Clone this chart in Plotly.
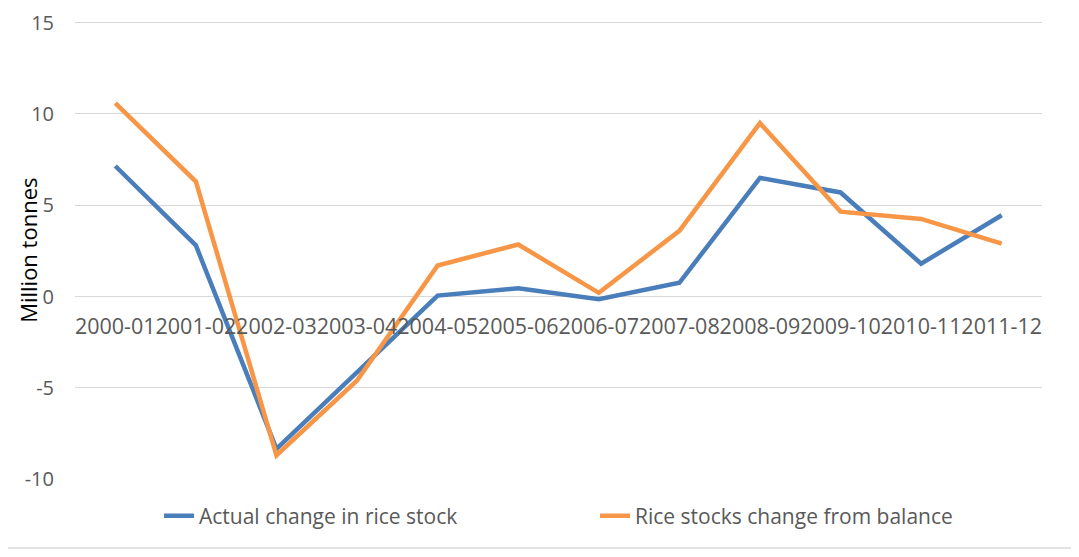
import plotly.graph_objects as go

categories = ["2000-01", "2001-02", "2002-03", "2003-04", "2004-05", "2005-06",
              "2006-07", "2007-08", "2008-09", "2009-10", "2010-11", "2011-12"]
actual_change = [7.15, 2.8, -8.35, -4.15, 0.05, 0.45, -0.15, 0.75, 6.5, 5.7, 1.8, 4.45]
balance_change = [10.6, 6.3, -8.7, -4.6, 1.7, 2.85, 0.2, 3.6, 9.5, 4.65, 4.25, 2.9]
y_ticks = [-10, -5, 0, 5, 10, 15]
y_tick_labels = ["-10", "-5", "0", "5", "10", "15"]

# page body has an 8px offset, so the figure is drawn smaller/shifted
OFF = 8
ymin, ymax = -10, 15.15
PX_PER_UNIT = 456 / 25
W, H = 1079 - OFF, 557 - 2 * OFF
ph = (ymax - ymin) * PX_PER_UNIT
T = 23 - OFF - (ymax - 15) * PX_PER_UNIT
L, R = 75 - OFF, 37
B = H - T - ph
pw = W - L - R
TXT = "#595959"
FONT = "Open Sans, Liberation Sans, sans-serif"

fig = go.Figure()
fig.add_trace(go.Scatter(x=categories, y=actual_change, mode="lines",
                         name="Actual change in rice stock",
                         line=dict(color="#4A7EBB", width=4.5)))
fig.add_trace(go.Scatter(x=categories, y=balance_change, mode="lines",
                         name="Rice stocks change from balance",
                         line=dict(color="#F79646", width=4.5)))

fig.update_layout(
    width=W, height=H,
    margin=dict(l=L, r=R, t=T, b=B, autoexpand=False),
    paper_bgcolor="white", plot_bgcolor="white",
    font=dict(family=FONT, color=TXT, size=21),
    showlegend=True,
    legend=dict(orientation="h", x=(159 - OFF - L) / pw, xanchor="left",
                y=-(516 - OFF - T - ph) / ph,
                yanchor="middle", font=dict(size=21, color=TXT),
                entrywidth=391, entrywidthmode="pixels"),
    xaxis=dict(type="category", range=[-0.5, 11.5], showgrid=False, showline=False,
               zeroline=False, anchor="free", position=(0 - ymin) / (ymax - ymin),
               automargin=False, tickangle=0, ticklabeloverflow="allow",
               ticks="", ticklabelstandoff=15, tickfont=dict(size=21.5, color=TXT)),
    yaxis=dict(range=[ymin, ymax], tickvals=y_ticks, ticktext=y_tick_labels,
               showgrid=True, gridcolor="#D9D9D9",
               gridwidth=1, zeroline=False, showline=False, ticks="", automargin=False,
               ticklabeloverflow="allow",
               ticklabelstandoff=20, tickfont=dict(size=20, color=TXT)),
    annotations=[dict(text="Million tonnes", xref="paper", yref="paper",
                      x=-(L - (28 - OFF)) / pw, y=(ph - (251 - OFF - T)) / ph,
                      xanchor="center", yanchor="middle",
                      textangle=-90, showarrow=False,
                      font=dict(size=22, color="#000000", family=FONT))],
    shapes=[dict(type="line", xref="paper", yref="paper",
                 x0=1 + (R - 4) / pw, x1=1 + (R - 4) / pw,
                 y0=-(B - 1) / ph, y1=1 + T / ph,
                 line=dict(color="#D9D9D9", width=1.5)),
            dict(type="line", xref="paper", yref="paper",
                 x0=-L / pw, x1=1 + (R - 4) / pw,
                 y0=-(B - 1) / ph, y1=-(B - 1) / ph,
                 line=dict(color="#D9D9D9", width=1.5))],
)

fig.write_html("out.html")
